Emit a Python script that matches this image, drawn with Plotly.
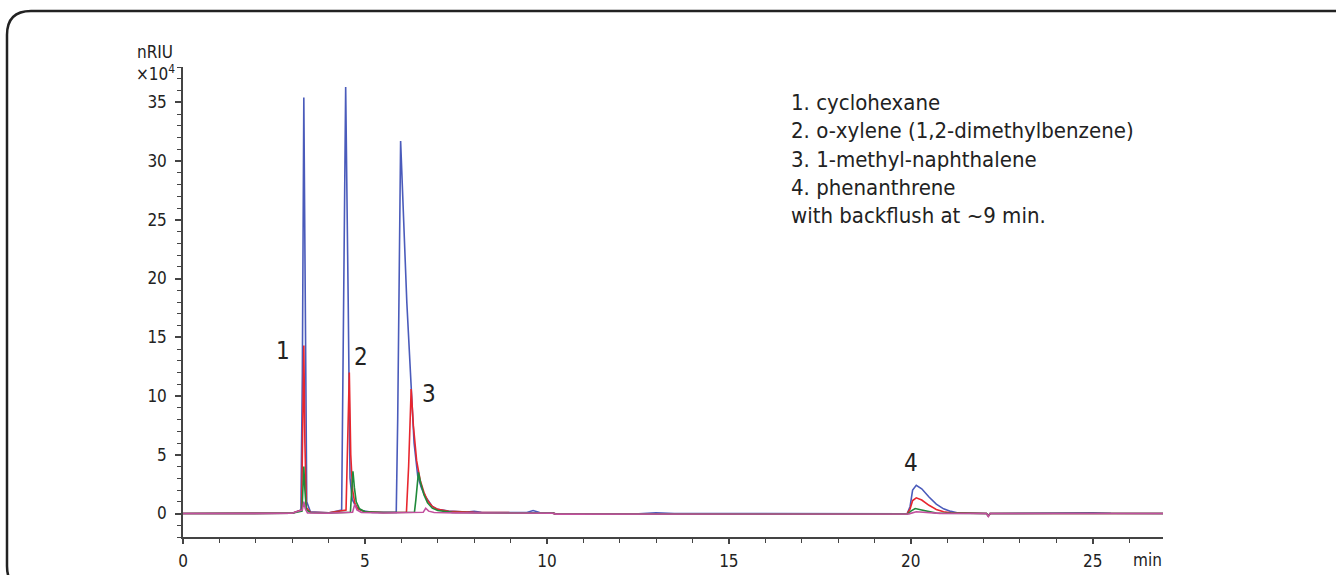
import plotly.graph_objects as go

# ---------------- data ----------------
t_blue = [0, 3.0, 3.24, 3.28, 3.32, 3.36, 3.40, 3.5, 4.0, 4.36, 4.40, 4.47, 4.54, 4.59, 4.65, 4.75, 4.9, 5.2,
          5.86, 5.90, 5.98, 6.05, 6.15, 6.25, 6.35, 6.45, 6.55, 6.65, 6.75, 6.85, 7.0, 7.3, 7.8, 8.0, 8.2,
          9.0, 9.45, 9.62, 9.8, 10.15, 10.25, 12.4, 13.0, 13.5, 19.9, 19.98, 20.05, 20.15, 20.3, 20.5,
          20.7, 20.9, 21.1, 21.3, 22.08, 22.13, 22.18, 24.0, 25.0, 25.5, 26.93]
y_blue = [0, 0.02, 0.3, 12, 35.4, 14, 1.0, 0.15, 0.05, 0.3, 12, 36.3, 18, 3, 1.2, 0.6, 0.25, 0.1,
          0.1, 8, 31.7, 26, 18, 12, 6, 3.2, 2.2, 1.5, 1.0, 0.6, 0.35, 0.2, 0.12, 0.18, 0.1,
          0.08, 0.08, 0.25, 0.08, 0.06, -0.05, -0.04, 0.06, 0, -0.02, 0.6, 2.0, 2.4, 2.1, 1.4,
          0.8, 0.4, 0.18, 0.05, 0, -0.2, 0, 0.03, 0.07, 0.02, 0]

t_red = [0, 3.0, 3.26, 3.29, 3.32, 3.35, 3.39, 3.5, 4.0, 4.48, 4.52, 4.57, 4.61, 4.66, 4.72, 4.8, 5.0, 5.5,
         6.14, 6.20, 6.27, 6.33, 6.42, 6.52, 6.62, 6.72, 6.85, 7.0, 7.3, 8.0, 9.0, 10.15, 10.25,
         19.9, 19.98, 20.05, 20.15, 20.3, 20.5, 20.7, 20.9, 21.1, 22.08, 22.13, 22.18, 26.93]
y_red = [0, 0.02, 0.3, 8, 14.3, 6, 0.5, 0.1, 0.05, 0.3, 6, 12.0, 5, 2, 0.9, 0.4, 0.15, 0.08,
         0.1, 4, 10.6, 7.5, 4.5, 2.8, 1.8, 1.1, 0.6, 0.35, 0.18, 0.1, 0.07, 0.05, -0.05,
         -0.02, 0.4, 1.1, 1.33, 1.15, 0.7, 0.35, 0.15, 0.05, 0, -0.2, 0, 0]

t_green = [0, 3.0, 3.27, 3.30, 3.32, 3.35, 3.39, 3.5, 4.0, 4.60, 4.63, 4.67, 4.71, 4.76, 4.85, 5.0, 5.5,
           6.36, 6.40, 6.47, 6.53, 6.62, 6.72, 6.85, 7.0, 7.4, 8.0, 10.15, 10.25,
           19.92, 20.0, 20.12, 20.3, 20.5, 20.7, 22.08, 22.13, 22.18, 26.93]
y_green = [0, 0.02, 0.2, 2.5, 4.0, 2.0, 0.3, 0.08, 0.05, 0.1, 1.5, 3.6, 2.2, 1.0, 0.4, 0.15, 0.08,
           0.1, 1.2, 3.5, 2.6, 1.6, 0.9, 0.45, 0.25, 0.1, 0.06, 0.05, -0.05,
           -0.02, 0.2, 0.42, 0.3, 0.15, 0.03, 0, -0.2, 0, 0]

t_magenta = [0, 3.0, 3.28, 3.32, 3.36, 3.42, 4.0, 4.66, 4.72, 4.78, 4.9, 5.5, 6.6, 6.67, 6.75, 6.9, 7.5,
             10.15, 10.25, 19.95, 20.15, 20.4, 20.8, 22.08, 22.13, 22.18, 26.93]
y_magenta = [0, 0.02, 0.3, 1.0, 0.4, 0.05, 0.03, 0.1, 0.8, 0.3, 0.08, 0.04, 0.1, 0.45, 0.2, 0.08, 0.05,
             0.03, -0.05, -0.03, 0.15, 0.08, 0.01, 0, -0.25, 0, 0]

peak_labels = ["1", "2", "3", "4"]
peak_label_t = [2.75, 4.9, 6.75, 20.0]
peak_label_y = [13.8, 13.3, 10.2, 4.3]

legend_lines = ["1. cyclohexane", "2. o-xylene (1,2-dimethylbenzene)", "3. 1-methyl-naphthalene",
                "4. phenanthrene", "with backflush at ~9 min."]

y_tickvals = [0, 5, 10, 15, 20, 25, 30, 35]
x_tickvals = [0, 5, 10, 15, 20, 25]

# ---------------- figure ----------------
FONT = "Liberation Sans Narrow, DejaVu Sans Condensed, Arial Narrow, sans-serif"
W, H = 1336, 575
ML, MR, MT, MB = 183, 173, 67, 38
PW, PH = W - ML - MR, H - MT - MB


def px(xp):
    return (xp - ML) / PW


def py(yp):
    return (H - MB - yp) / PH


fig = go.Figure()
series = [(t_blue, y_blue, "#4a5bbb"), (t_red, y_red, "#e8262e"),
          (t_green, y_green, "#1f8a3a"), (t_magenta, y_magenta, "#c2509e")]
for tx, yy, col in series:
    fig.add_trace(go.Scatter(x=tx, y=yy, mode="lines", line=dict(color=col, width=1.6),
                             showlegend=False, hoverinfo="skip"))

ann = []
for lab, tx, yy in zip(peak_labels, peak_label_t, peak_label_y):
    ann.append(dict(x=tx, y=yy, xref="x", yref="y", text=lab, showarrow=False,
                    xanchor="center", yanchor="middle",
                    font=dict(family=FONT, size=24, color="#222")))

leg_y0, leg_dy = 35.0, 2.42
for i, line in enumerate(legend_lines):
    ann.append(dict(x=16.64, y=leg_y0 - i * leg_dy, xref="x", yref="y", text=line, showarrow=False,
                    xanchor="left", yanchor="middle", font=dict(family=FONT, size=22, color="#222")))

ann.append(dict(x=px(1147), y=py(560), xref="paper", yref="paper", text="min", showarrow=False,
                xanchor="center", yanchor="middle", font=dict(family=FONT, size=17, color="#222")))
ann.append(dict(x=px(155), y=py(52), xref="paper", yref="paper", text="nRIU", showarrow=False,
                xanchor="center", yanchor="middle", font=dict(family=FONT, size=17, color="#222")))
ann.append(dict(x=px(155), y=py(73), xref="paper", yref="paper", text="×10<sup>4</sup>", showarrow=False,
                xanchor="center", yanchor="middle", font=dict(family=FONT, size=17, color="#222")))

L, T, R, B, r = 7, 11, 1358, 590, 24
path = (f"M {px(L)},{py(T + r)} Q {px(L)},{py(T)} {px(L + r)},{py(T)} "
        f"L {px(R - r)},{py(T)} Q {px(R)},{py(T)} {px(R)},{py(T + r)} "
        f"L {px(R)},{py(B - r)} Q {px(R)},{py(B)} {px(R - r)},{py(B)} "
        f"L {px(L + r)},{py(B)} Q {px(L)},{py(B)} {px(L)},{py(B - r)} Z")

fig.update_layout(
    width=W, height=H, autosize=False,
    margin=dict(l=ML, r=MR, t=MT, b=MB, pad=0),
    paper_bgcolor="white", plot_bgcolor="white",
    font=dict(family=FONT, size=18, color="#222"),
    annotations=ann,
    shapes=[dict(type="path", xref="paper", yref="paper", path=path,
                 line=dict(color="#222", width=2.5), layer="below")],
    xaxis=dict(range=[0, 26.93], showgrid=False, zeroline=False, showline=True, automargin=False,
               linecolor="#444", linewidth=1.5, ticks="outside", ticklen=5, tickwidth=1.5,
               tickcolor="#444", tickvals=x_tickvals, ticklabelstandoff=3,
               minor=dict(dtick=1, tick0=0, ticks="outside", ticklen=4, tickwidth=1.3, tickcolor="#444"),
               tickfont=dict(family=FONT, size=17, color="#222")),
    yaxis=dict(range=[-2, 38], showgrid=False, zeroline=False, showline=True, automargin=False,
               linecolor="#444", linewidth=1.5, ticks="outside", ticklen=6, tickwidth=1.5,
               tickcolor="#444", tickvals=y_tickvals, ticklabelstandoff=5,
               minor=dict(dtick=1, tick0=0, ticks="outside", ticklen=4, tickwidth=1.3, tickcolor="#444"),
               tickfont=dict(family=FONT, size=17, color="#222")),
)

fig.write_html("out.html")
